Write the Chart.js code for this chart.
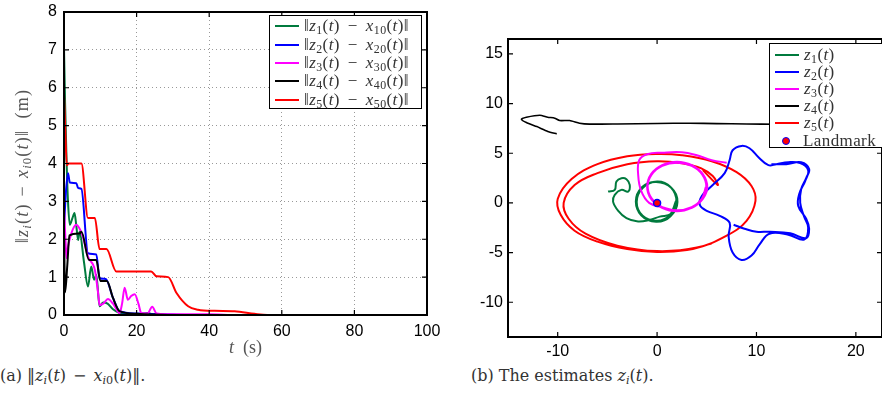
<!DOCTYPE html>
<html>
<head>
<meta charset="utf-8">
<script src="https://cdn.jsdelivr.net/npm/chart.js@4.4.1/dist/chart.umd.min.js"></script>
<style>
  body { margin: 0; background: #fff; }
  #wrap { position: relative; width: 882px; height: 395px; overflow: hidden; font-family: 'Liberation Serif', serif; }
  canvas { position: absolute; top: 0; }
  #cA { left: 0; }
  #cB { left: 460px; }
  .leg { position: absolute; background: #fff; border: 1.5px solid #000; box-sizing: border-box; color: #333; font-size: 17px; letter-spacing: 0.4px; }
  .leg .row { display: flex; align-items: center; white-space: nowrap; }
  .leg .ln { display: inline-block; width: 24px; height: 2px; margin: 0 5px 0 5px; flex: none; }
  .leg .dot { display: inline-block; width: 6px; height: 6px; border-radius: 50%; background: #f00; border: 1.5px solid #00f; margin: 0 13px 0 12px; flex: none; }
  .m { margin: 0 8px; }
  .lbl .m { margin: 0 7px; }
  sub { font-size: 70%; vertical-align: -0.25em; line-height: 0; }
  .lbl { position: absolute; color: #555; font-size: 18px; text-align: center; white-space: nowrap; }
  .cap { position: absolute; top: 366px; font-family: 'DejaVu Serif', serif; font-size: 16px; color: #333; white-space: nowrap; }
  .cap .m { margin: 0 7px; }
</style>
</head>
<body>
<div id="wrap">
  <canvas id="cA" width="450" height="360"></canvas>
  <canvas id="cB" width="422" height="365"></canvas>
  <div id="legA" class="leg" style="left:269px;top:15px;width:153px;height:94px;padding-top:1px;"></div>
  <div id="legB" class="leg" style="left:769px;top:43px;width:114px;height:105px;padding-top:2px;"></div>
  <div class="lbl" style="left:-78px;top:156px;width:200px;height:20px;line-height:20px;letter-spacing:1.2px;transform:rotate(-90deg);">‖<i>z<sub>i</sub></i>(<i>t</i>)<span class="m">−</span><i>x<sub>i</sub></i><sub>0</sub>(<i>t</i>)‖&nbsp;&nbsp;(m)</div>
  <div class="lbl" style="left:64px;top:337px;width:363px;line-height:20px;"><i>t</i>&nbsp;&nbsp;(s)</div>
  <div class="cap" style="left:0px;">(a) ‖<i>z<sub>i</sub></i>(<i>t</i>)<span class="m">−</span><i>x<sub>i</sub></i><sub>0</sub>(<i>t</i>)‖.</div>
  <div class="cap" style="left:471px;">(b) The estimates <i>z<sub>i</sub></i>(<i>t</i>).</div>
</div>
<script>
// (a) estimation error norms
const tTicksA = [0, 20, 40, 60, 80, 100];
const eTicksA = [0, 1, 2, 3, 4, 5, 6, 7, 8];

const t1 = [0, 0.3, 0.7, 1.1, 1.6, 2.3, 2.9, 3.4, 3.9, 4.3, 5.5, 6.6, 7.5, 8.3, 8.9, 9.8, 10.8, 12.0, 13.5, 15.3, 18, 21, 23, 25, 30, 100];
const e1 = [7.05, 5.6, 4.1, 3.0, 2.38, 2.55, 2.69, 2.35, 1.98, 2.2, 1.4, 0.75, 1.28, 0.93, 1.06, 0.23, 0.33, 0.3, 0.15, 0.05, 0.02, 0.03, 0.05, 0.01, 0, 0];

const t2 = [0, 0.5, 1.1, 1.6, 3.4, 3.9, 4.8, 6.6, 8.9, 9.8, 11.5, 13.5, 15.3, 20, 30, 35, 100];
const e2 = [2.3, 3.2, 3.74, 3.5, 3.48, 3.35, 3.33, 1.63, 1.6, 0.97, 0.95, 0.45, 0.1, 0.04, 0.01, 0, 0];

const t3 = [0, 0.3, 0.7, 1.1, 2.0, 3.4, 4.2, 5.2, 6.6, 8.5, 9.4, 9.8, 10.8, 12.1, 13.5, 15.3, 16.0, 16.7, 17.6, 18.5, 19.5, 20.5, 21.3, 23.0, 24.3, 25.5, 28, 40, 45, 100];
const e3 = [2.85, 2.2, 1.5, 1.8, 2.15, 2.38, 2.3, 2.07, 1.54, 1.19, 0.58, 0.26, 0.3, 0.42, 0.3, 0.05, 0.3, 0.72, 0.4, 0.5, 0.55, 0.3, 0.05, 0.04, 0.22, 0.04, 0.02, 0.02, 0, 0];

const t4 = [0, 0.3, 0.9, 1.5, 4.3, 4.8, 6.9, 8.9, 10.0, 11.8, 13.5, 15.3, 20, 30, 100];
const e4 = [2.2, 0.6, 1.3, 2.1, 2.15, 2.2, 1.45, 1.45, 0.9, 0.9, 0.45, 0.1, 0.03, 0, 0];

const t5 = [0, 0.3, 0.8, 1.2, 4.8, 6.6, 8.5, 9.8, 11.7, 14.4, 16.7, 24.0, 25.5, 28.7, 31.0, 34.2, 36.9, 41.5, 47.0, 52.5, 56, 100];
const e5 = [5.85, 5.0, 3.95, 4.0, 4.0, 2.56, 2.56, 1.74, 1.74, 1.15, 1.15, 1.15, 1.02, 1.0, 0.58, 0.23, 0.14, 0.11, 0.1, 0.03, 0, 0];

// (b) estimated positions
const xTicksB = [-10, 0, 10, 20];
const yTicksB = [-10, -5, 0, 5, 10, 15];

const z1x = [-4.93, -4.26, -4.09, -3.59, -3.08, -2.75, -2.92, -3.59, -4.26, -4.43, -3.93, -3.08, -1.91, -0.74, 0.27, 1.4, 2.0, 1.39, -0.07, -1.53, -2.14, -1.53, -0.07, 1.39, 2.05, 1.45, -0.1, -1.5, -2.1, -1.6, -0.1, 1.35, 1.95, 1.35, 0.0, -1.45, -2.05, -1.45, 0.0, 1.3, 1.9];
const z1y = [1.14, 1.31, 2.15, 2.49, 2.39, 1.81, 1.14, 1.31, 0.81, 0.13, -0.77, -1.54, -1.88, -1.71, -1.38, -1.1, 0.13, 1.55, 2.13, 1.55, 0.13, -1.29, -1.87, -1.29, 0.1, 1.5, 2.1, 1.6, 0.2, -1.25, -1.9, -1.35, 0.15, 1.6, 2.15, 1.5, 0.1, -1.3, -1.8, -1.2, 0.2];

const z2x = [7.7, 8.8, 10.0, 11.35, 13.4, 15.0, 15.3, 15.0, 14.2, 14.3, 14.9, 15.2, 14.4, 13.2, 12.0, 11.2, 10.2, 9.3, 8.5, 7.6, 7.3, 6.8, 5.6, 4.5, 4.3, 5.0, 6.3, 7.3, 7.2, 7.6, 8.5, 9.5, 10.3, 11.3, 13.2, 14.8, 15.2, 14.8, 14.4, 14.5, 15.0, 15.3, 14.5, 13.0, 11.5];
const z2y = [-2.2, -2.6, -2.9, -2.9, -3.05, -3.55, -2.6, -1.6, -0.3, 0.9, 2.2, 3.3, 4.0, 4.1, 3.9, 3.8, 4.6, 5.5, 5.74, 5.3, 4.3, 3.0, 1.8, 0.7, -0.2, -0.8, -1.3, -2.0, -3.4, -5.0, -5.74, -5.3, -4.2, -3.1, -3.2, -3.7, -2.5, -1.4, 0.0, 1.4, 2.5, 3.4, 4.1, 3.9, 3.9];

const z3x = [7.0, 5.5, 4.0, 2.5, 0.5, -1.0, -1.8, -1.9, -1.6, -0.8, 0.52, 2.0, 3.48, 4.55, 4.95, 4.55, 3.48, 2.0, 0.52, -0.55, -0.95, -0.55, 0.52, 2.0, 3.5, 4.6, 5.05, 4.6, 3.5, 2.0, 0.5, -0.6, -1.0, -0.6, 0.5, 2.0, 3.45, 4.5, 4.9];
const z3y = [4.05, 4.3, 4.8, 5.1, 5.05, 4.9, 4.3, 2.8, 1.2, 0.0, -0.43, -0.75, -0.43, 0.45, 1.65, 2.85, 3.73, 4.05, 3.73, 2.85, 1.65, 0.45, -0.43, -0.8, -0.5, 0.4, 1.6, 2.9, 3.8, 4.15, 3.8, 2.9, 1.6, 0.4, -0.5, -0.85, -0.5, 0.4, 1.6];

const z4x = [-10.1, -11.0, -12.1, -13.15, -13.65, -13.15, -11.8, -11.0, -10.3, -9.8, -8.8, -7.8, -6.8, -4, 0, 3.3, 6, 9, 12, 14];
const z4y = [6.95, 7.2, 7.68, 8.09, 8.43, 8.63, 8.83, 8.63, 8.53, 8.29, 8.29, 8.02, 7.93, 7.95, 8.0, 8.02, 7.98, 7.95, 7.92, 7.9];

const z5x = [4.6, 6.1, 5.6, 4.4, 2.5, 0, -3, -6, -8.3, -9.4, -8.9, -7.2, -4, 0, 4, 7, 9, 9.9, 9.5, 8, 5.5, 2.5, 0, -3, -6, -8.6, -10, -9.7, -8.3, -6, -3, 0, 3, 5.5];
const z5y = [3.3, 1.8, 2.7, 3.5, 4.0, 4.2, 3.9, 3.0, 1.8, 0, -1.6, -3.1, -4.3, -4.85, -4.5, -3.3, -1.8, 0.2, 1.7, 3.1, 4.2, 4.8, 4.93, 4.7, 3.9, 2.4, 0.4, -1.2, -2.8, -3.9, -4.65, -4.95, -4.75, -4.1];

const landmarkX = [0];
const landmarkY = [0];

const namesA = [
  '‖<i>z</i><sub>1</sub>(<i>t</i>)<span class="m">−</span><i>x</i><sub>10</sub>(<i>t</i>)‖',
  '‖<i>z</i><sub>2</sub>(<i>t</i>)<span class="m">−</span><i>x</i><sub>20</sub>(<i>t</i>)‖',
  '‖<i>z</i><sub>3</sub>(<i>t</i>)<span class="m">−</span><i>x</i><sub>30</sub>(<i>t</i>)‖',
  '‖<i>z</i><sub>4</sub>(<i>t</i>)<span class="m">−</span><i>x</i><sub>40</sub>(<i>t</i>)‖',
  '‖<i>z</i><sub>5</sub>(<i>t</i>)<span class="m">−</span><i>x</i><sub>50</sub>(<i>t</i>)‖'
];
const namesB = [
  '<i>z</i><sub>1</sub>(<i>t</i>)',
  '<i>z</i><sub>2</sub>(<i>t</i>)',
  '<i>z</i><sub>3</sub>(<i>t</i>)',
  '<i>z</i><sub>4</sub>(<i>t</i>)',
  '<i>z</i><sub>5</sub>(<i>t</i>)',
  'Landmark'
];
const colors = ['#007a3d', '#0000ff', '#ff00ff', '#000000', '#ff0000'];

const pts = (xs, ys) => xs.map((x, i) => ({ x: x, y: ys[i] }));

// box round the plot area with inward tick marks
const frame = {
  id: 'frame',
  afterDatasetsDraw(chart, args, o) {
    const { ctx, chartArea: a, scales } = chart;
    const sx = scales.x, sy = scales.y;
    ctx.save();
    ctx.strokeStyle = '#000';
    ctx.lineWidth = 1.2;
    ctx.beginPath();
    sx.ticks.forEach(t => {
      const p = sx.getPixelForValue(t.value);
      ctx.moveTo(p, a.bottom); ctx.lineTo(p, a.bottom - o.tickLen);
      ctx.moveTo(p, a.top); ctx.lineTo(p, a.top + o.tickLen);
    });
    sy.ticks.forEach(t => {
      const p = sy.getPixelForValue(t.value);
      ctx.moveTo(a.left, p); ctx.lineTo(a.left + o.tickLen, p);
      ctx.moveTo(a.right, p); ctx.lineTo(a.right - o.tickLen, p);
    });
    ctx.stroke();
    ctx.lineWidth = o.width;
    ctx.strokeRect(a.left, a.top, a.right - a.left, a.bottom - a.top);
    ctx.restore();
  }
};

const tickFont = { family: 'Liberation Sans', size: 16 };

function axis(min, max, ticks, pad, size, horizontal, grid) {
  return {
    type: 'linear', min: min, max: max,
    afterBuildTicks: s => { s.ticks = ticks.map(v => ({ value: v })); },
    afterFit: s => {
      if (horizontal) s.height = size; else s.width = size;
      // layout padding alone decides where the plot box sits
      s.paddingTop = 0; s.paddingBottom = 0; s.paddingLeft = 0; s.paddingRight = 0;
    },
    grid: { display: grid, color: '#999', lineWidth: 1, drawTicks: false },
    border: { display: false, dash: [1, 3] },
    ticks: { font: tickFont, color: '#000', padding: pad, maxRotation: 0, autoSkip: false }
  };
}

// ---- chart (a)
const seriesA = [[t1, e1], [t2, e2], [t3, e3], [t4, e4], [t5, e5]];
const orderA = [4, 3, 2, 0, 1];
const chartA = new Chart(document.getElementById('cA'), {
  type: 'line',
  data: {
    datasets: seriesA.map((s, i) => ({
      label: namesA[i],
      data: pts(s[0], s[1]),
      borderColor: colors[i],
      borderWidth: 2,
      pointRadius: 0,
      cubicInterpolationMode: 'monotone',
      order: orderA[i]
    }))
  },
  options: {
    animation: false,
    responsive: false,
    events: [],
    layout: { autoPadding: false, padding: { left: 0, top: 12, right: 23, bottom: 0 } },
    plugins: { legend: { display: false }, tooltip: { enabled: false }, frame: { tickLen: 5, width: 2 } },
    scales: {
      x: axis(0, 100, tTicksA, 7, 45, true, true),
      y: axis(0, 8, eTicksA, 7, 64, false, true)
    }
  },
  plugins: [frame]
});

// ---- chart (b)
const seriesB = [[z1x, z1y], [z2x, z2y], [z3x, z3y], [z4x, z4y], [z5x, z5y]];
const orderB = [2, 3, 1, 4, 5];
const dsB = seriesB.map((s, i) => ({
  label: namesB[i],
  data: pts(s[0], s[1]),
  showLine: true,
  borderColor: colors[i],
  borderWidth: i === 3 ? 1.6 : 2,
  tension: i === 3 ? 0.2 : 0.4,
  pointRadius: 0,
  fill: false,
  order: orderB[i]
}));
dsB.push({
  label: namesB[5],
  data: pts(landmarkX, landmarkY),
  showLine: false,
  pointRadius: 3.5,
  pointBackgroundColor: '#ff0000',
  pointBorderColor: '#0000ff',
  pointBorderWidth: 1.5,
  order: 0
});
const chartB = new Chart(document.getElementById('cB'), {
  type: 'scatter',
  data: { datasets: dsB },
  options: {
    animation: false,
    responsive: false,
    events: [],
    layout: { autoPadding: false, padding: { left: 0, top: 39, right: 0, bottom: 0 } },
    plugins: { legend: { display: false }, tooltip: { enabled: false }, frame: { tickLen: 5, width: 2 } },
    scales: {
      x: axis(-15, 22.63, xTicksB, 5, 28, true, false),
      y: axis(-13.5, 16.5, yTicksB, 5, 48, false, false)
    }
  },
  plugins: [frame]
});

// legends inside the plot boxes, built from the datasets
function buildLegend(el, chart, rowH) {
  chart.data.datasets.forEach(ds => {
    const row = document.createElement('div');
    row.className = 'row';
    row.style.height = rowH + 'px';
    const mark = document.createElement('span');
    if (ds.showLine === false) {
      mark.className = 'dot';
    } else {
      mark.className = 'ln';
      mark.style.background = ds.borderColor;
    }
    const txt = document.createElement('span');
    txt.innerHTML = ds.label;
    row.appendChild(mark);
    row.appendChild(txt);
    el.appendChild(row);
  });
}
buildLegend(document.getElementById('legA'), chartA, 18.4);
buildLegend(document.getElementById('legB'), chartB, 17.2);
</script>
</body>
</html>
